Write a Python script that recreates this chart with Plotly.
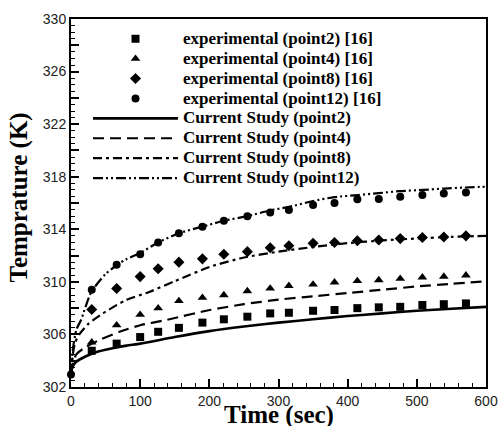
import plotly.graph_objects as go

# ---- data ----
t_exp = [30, 66, 100, 126, 156, 190, 221, 255, 288, 315, 350, 381, 414, 445, 476, 508, 539, 571]
exp_p2 = [304.76, 305.3, 305.8, 306.2, 306.5, 306.9, 307.15, 307.35, 307.6, 307.65, 307.8, 307.86, 308.0, 308.06, 308.1, 308.24, 308.3, 308.36]
exp_p4 = [305.4, 306.7, 307.5, 308.0, 308.55, 308.8, 309.0, 309.3, 309.5, 309.7, 309.8, 309.97, 310.07, 310.14, 310.24, 310.35, 310.4, 310.5]
exp_p8 = [307.9, 309.5, 310.4, 311.0, 311.5, 311.75, 312.1, 312.3, 312.6, 312.75, 312.93, 313.0, 313.13, 313.19, 313.29, 313.37, 313.42, 313.5]
t_exp12 = [0] + t_exp
exp_p12 = [302.95, 309.4, 311.3, 312.1, 313.0, 313.7, 314.2, 314.65, 315.0, 315.27, 315.47, 315.85, 316.0, 316.28, 316.3, 316.48, 316.6, 316.73, 316.8]

t_p2 = [0, 2, 7, 20, 36, 60, 80, 100, 150, 200, 250, 300, 350, 400, 450, 500, 550, 600]
cur_p2 = [302.9, 303.5, 303.9, 304.3, 304.65, 304.95, 305.15, 305.3, 305.8, 306.25, 306.6, 306.9, 307.15, 307.4, 307.6, 307.8, 307.95, 308.1]

t_p4 = [0, 3, 8, 20, 42, 70, 100, 138, 150, 201, 250, 300, 350, 400, 450, 500, 550, 600]
cur_p4 = [303.0, 303.9, 304.5, 305.0, 305.6, 306.2, 306.7, 307.1, 307.25, 307.86, 308.3, 308.65, 308.9, 309.15, 309.4, 309.65, 309.85, 310.05]

t_p8 = [0, 3, 6, 12, 25, 46, 79, 114, 150, 201, 250, 300, 350, 400, 450, 500, 550, 600]
cur_p8 = [303.0, 304.6, 305.4, 306.0, 306.8, 307.6, 308.6, 309.25, 310.05, 311.15, 311.85, 312.3, 312.65, 312.95, 313.15, 313.3, 313.42, 313.5]

t_p12 = [0, 3, 8, 14.5, 29, 50, 67, 79, 100, 126, 156, 190, 221, 255, 289, 315, 350, 381, 415, 445, 475, 510, 540, 570, 600]
cur_p12 = [303.0, 305.0, 306.4, 307.1, 309.2, 310.6, 311.3, 311.7, 312.2, 313.0, 313.7, 314.2, 314.65, 315.0, 315.45, 315.7, 316.15, 316.45, 316.6, 316.75, 316.9, 317.0, 317.1, 317.18, 317.24]

y_tickvals = list(range(302, 331, 2))
y_ticktext = [str(v) if (v - 302) % 4 == 0 else "" for v in y_tickvals]
x_tickvals = list(range(0, 601, 100))

SERIF = "Liberation Serif"
SANS = "Liberation Sans"


def legend_label(s):
    return "<span style='font-size:17px'><b>" + s + "</b></span>"


fig = go.Figure()

markers = [
    ("experimental (point2) [16]", t_exp, exp_p2, "square", 8),
    ("experimental (point4) [16]", t_exp, exp_p4, "triangle-up", 8.5),
    ("experimental (point8) [16]", t_exp, exp_p8, "diamond", 8.5),
    ("experimental (point12) [16]", t_exp12, exp_p12, "circle", 8),
]
lines = [
    ("Current Study (point2)", t_p2, cur_p2, "solid", 2.6),
    ("Current Study (point4)", t_p4, cur_p4, "11px,6px", 2.2),
    ("Current Study (point8)", t_p8, cur_p8, "9px,4px,3px,4px", 2.2),
    ("Current Study (point12)", t_p12, cur_p12, "10px,3px,2px,3px,2px,3px", 2.2),
]

for i, (name, x, y, dash, w) in enumerate(lines):
    fig.add_trace(go.Scatter(x=x, y=y, mode="lines", name=legend_label(name),
                             line=dict(color="black", width=w, dash=dash, shape="spline", smoothing=0.6),
                             legendrank=100 + i, cliponaxis=False))
for i, (name, x, y, sym, s) in enumerate(markers):
    fig.add_trace(go.Scatter(x=x, y=y, mode="markers", name=legend_label(name),
                             marker=dict(symbol=sym, size=s, color="black"),
                             legendrank=i, cliponaxis=False))

fig.update_layout(
    width=500, height=426,
    margin=dict(l=71, r=14, t=19, b=39),
    paper_bgcolor="white", plot_bgcolor="white",
    showlegend=True,
    legend=dict(x=0.041, y=0.987, xanchor="left", yanchor="top",
                bgcolor="rgba(0,0,0,0)", borderwidth=0,
                font=dict(family=SERIF, size=13, color="black"),
                itemwidth=85, tracegroupgap=0),
    font=dict(family=SANS, color="#222"),
    annotations=[
        dict(text="<b>Time (sec)</b>", xref="paper", yref="paper", x=0.5, y=-0.076,
             xanchor="center", yanchor="middle", showarrow=False,
             font=dict(family=SERIF, size=25, color="black")),
        dict(text="<b>Temprature (K)</b>", xref="paper", yref="paper", x=-0.123, y=0.515,
             xanchor="center", yanchor="middle", showarrow=False, textangle=-90,
             font=dict(family=SERIF, size=25, color="black")),
    ],
)
fig.update_xaxes(range=[0, 600], tickvals=x_tickvals, ticks="inside", ticklen=8, tickwidth=1.5,
                 tickcolor="black", showline=True, linecolor="black", linewidth=2, mirror=True,
                 showgrid=False, zeroline=False, automargin=False,
                 minor=dict(dtick=20, ticks="inside", ticklen=4, tickcolor="black", tickwidth=1),
                 tickfont=dict(family=SANS, size=14, color="#222"))
fig.update_yaxes(range=[302, 330], tickvals=y_tickvals, ticktext=y_ticktext, ticks="inside", ticklen=8, tickwidth=1.5,
                 tickcolor="black", showline=True, linecolor="black", linewidth=2, mirror=True,
                 showgrid=False, zeroline=False, automargin=False,
                 minor=dict(dtick=0.5, ticks="inside", ticklen=4, tickcolor="black", tickwidth=1),
                 tickfont=dict(family=SANS, size=14, color="#222"))

# remove the default 8px page margin so the 500x426 figure fills the window exactly
fig.write_html("out.html", post_script="document.body.style.margin='0px';",
               config={"displayModeBar": False})
